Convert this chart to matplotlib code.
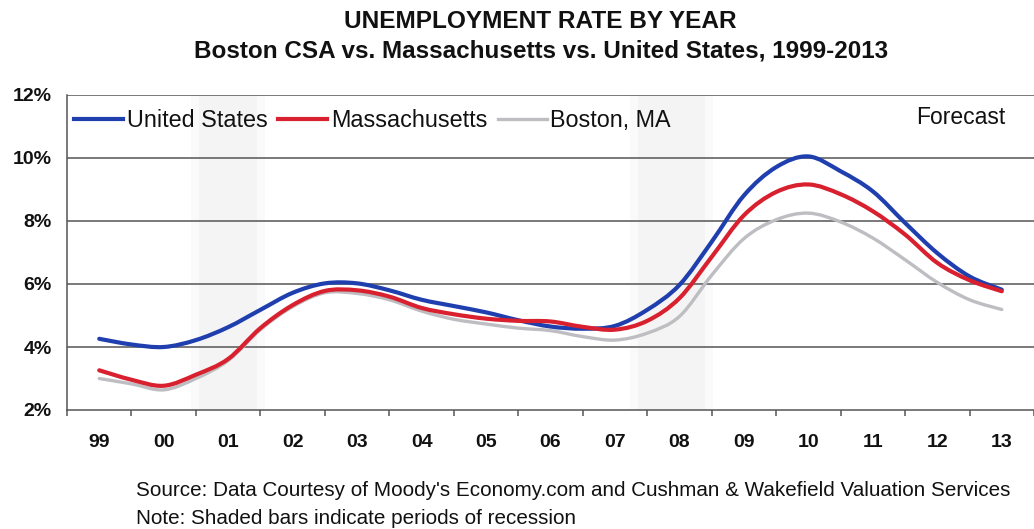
import matplotlib
matplotlib.use("Agg")
import matplotlib.pyplot as plt
from matplotlib.path import Path
from matplotlib.patches import PathPatch
from matplotlib.lines import Line2D
import numpy as np

# ---- data (half-year readings) ----
years = [1999, 1999.5, 2000, 2000.5, 2001, 2001.5, 2002, 2002.5, 2003, 2003.5,
         2004, 2004.5, 2005, 2005.5, 2006, 2006.5, 2007, 2007.5, 2008, 2008.5,
         2009, 2009.5, 2010, 2010.5, 2011, 2011.5, 2012, 2012.5, 2013]
united_states = [4.26, 4.08, 4.00, 4.22, 4.63, 5.18, 5.72, 6.02, 6.02, 5.80,
                 5.50, 5.30, 5.10, 4.85, 4.65, 4.58, 4.67, 5.18, 5.97, 7.34,
                 8.81, 9.71, 10.05, 9.58, 8.94, 7.94, 6.98, 6.24, 5.82]
massachusetts = [3.26, 2.96, 2.77, 3.12, 3.62, 4.60, 5.33, 5.78, 5.80, 5.60,
                 5.24, 5.04, 4.90, 4.83, 4.81, 4.64, 4.55, 4.83, 5.55, 6.86,
                 8.18, 8.92, 9.16, 8.85, 8.31, 7.57, 6.67, 6.12, 5.77]
boston = [3.00, 2.83, 2.64, 3.00, 3.57, 4.55, 5.28, 5.72, 5.70, 5.50,
          5.14, 4.88, 4.73, 4.60, 4.52, 4.33, 4.22, 4.44, 4.97, 6.28,
          7.44, 8.04, 8.25, 7.97, 7.46, 6.77, 6.05, 5.50, 5.19]
year_labels = ["99", "00", "01", "02", "03", "04", "05", "06", "07", "08",
               "09", "10", "11", "12", "13"]
label_years = list(range(1999, 2014))
recessions = [(2000.55, 2001.45), (2007.35, 2008.4)]
y_ticks = [2, 4, 6, 8, 10, 12]


def smooth_path(xs, ys):
    """Catmull-Rom style Bezier path through every data point (Excel smoothed line)."""
    p = np.column_stack([xs, ys]).astype(float)
    n = len(p)
    verts = [p[0]]
    codes = [Path.MOVETO]
    for i in range(n - 1):
        p0 = p[i - 1] if i > 0 else p[i]
        p1, p2 = p[i], p[i + 1]
        p3 = p[i + 2] if i + 2 < n else p[i + 1]
        c1 = p1 + (p2 - p0) / 6.0
        c2 = p2 - (p3 - p1) / 6.0
        verts += [c1, c2, p2]
        codes += [Path.CURVE4] * 3
    return Path(verts, codes)


W, H = 1034, 529
fig = plt.figure(figsize=(W / 100, H / 100), dpi=100)
ax = fig.add_axes([67 / W, (H - 410) / H, (W - 67) / W, 315 / H])

# recession shading
for a, b in recessions:
    ax.axvspan(a - 0.12, b + 0.12, color="#fafafa", lw=0, zorder=0)
    ax.axvspan(a, b, color="#f4f4f4", lw=0, zorder=0)

ax.set_ylim(2, 12)
ax.set_xlim(1998.5, 1998.5 + (W - 67) / 65.2)

for v in y_ticks[1:]:
    ax.axhline(v, color="#555555", lw=1.1, zorder=1)

c_us, c_ma, c_bo = "#1f3fae", "#d8202e", "#bdbdc2"
series = [(boston, c_bo, 2.4, 3), (united_states, c_us, 3.0, 3.5),
          (massachusetts, c_ma, 3.0, 4)]
for vals, col, lw, z in series:
    ax.add_patch(PathPatch(smooth_path(years, vals), fill=False, edgecolor=col,
                           lw=lw, zorder=z, capstyle="round", joinstyle="round"))

# spines
for s in ["top", "right"]:
    ax.spines[s].set_visible(False)
for s in ["left", "bottom"]:
    ax.spines[s].set_color("#555555")
    ax.spines[s].set_linewidth(1.1)

ax.set_yticks(y_ticks)
ax.set_yticklabels([f"{v}%" for v in y_ticks])
ax.tick_params(axis="y", length=0, pad=11)

ax.set_xticks(np.arange(1998.5, 2013.6, 1.0))
ax.set_xticklabels([])
ax.tick_params(axis="x", which="major", length=4, color="#555555", width=1.1)
ax.set_xticks(label_years, minor=True)
ax.set_xticklabels(year_labels, minor=True)
ax.tick_params(axis="x", which="minor", length=0, pad=17)

for lab in ax.get_yticklabels() + ax.get_xticklabels(minor=True):
    lab.set_fontfamily("Liberation Sans")
    lab.set_fontweight("bold")
    lab.set_fontsize(14)
    lab.set_color("#111111")

handles = [Line2D([], [], color=c_us, lw=3.0), Line2D([], [], color=c_ma, lw=3.0),
           Line2D([], [], color=c_bo, lw=2.4)]
labels = ["United States", "Massachusetts", "Boston, MA"]
leg = ax.legend(handles, labels, loc="upper left", bbox_to_anchor=(-0.002, 0.985),
                ncol=3, frameon=False, handlelength=2.1, handletextpad=0.15,
                columnspacing=0.45, borderaxespad=0.0,
                prop={"family": "Liberation Sans", "size": 16.8})
for t in leg.get_texts():
    t.set_color("#111111")

fig.text(1005 / W, 1 - 118 / H, "Forecast", ha="right", va="center",
         family="Liberation Sans", fontsize=16.5, color="#111111")

fig.text(540 / W, 1 - 21 / H, "UNEMPLOYMENT RATE BY YEAR", ha="center", va="center",
         family="Liberation Sans", fontweight="bold", fontsize=17.6, color="#111111")
fig.text(541 / W, 1 - 51 / H, "Boston CSA vs. Massachusetts vs. United States, 1999-2013",
         ha="center", va="center", family="Liberation Sans", fontweight="bold",
         fontsize=17.5, color="#111111")

fig.text(136 / W, 1 - 490 / H,
         "Source: Data Courtesy of Moody's Economy.com and Cushman & Wakefield Valuation Services",
         ha="left", va="center", family="Liberation Sans", fontsize=14.9, color="#111111")
fig.text(136 / W, 1 - 518 / H, "Note: Shaded bars indicate periods of recession",
         ha="left", va="center", family="Liberation Sans", fontsize=14.9, color="#111111")

fig.savefig("out.png", dpi=100, facecolor="white")
